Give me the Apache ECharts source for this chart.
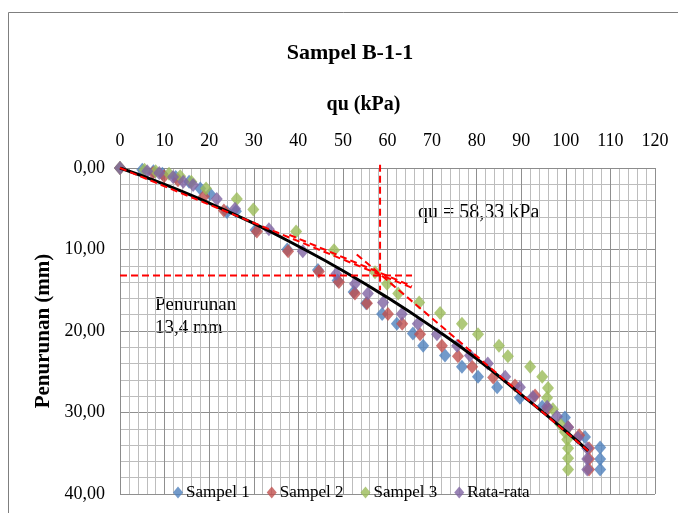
<!DOCTYPE html>
<html>
<head>
<meta charset="utf-8">
<script src="https://cdn.jsdelivr.net/npm/echarts@6/dist/echarts.min.js"></script>
<style>
  html, body { margin: 0; padding: 0; background: #fff; }
  #chart { width: 678px; height: 513px; }
</style>
</head>
<body>
<div id="chart"></div>
<script>
// [qu (kPa), penurunan (mm)]
const sampel1 = [[0,0],[5,0.2],[7.5,0.4],[9.5,0.7],[12.5,1.1],[15.5,1.7],[18,2.5],[20.2,3.2],[24,5.4],[26,5.3],[30.4,7.6],[37.5,10.0],[44.4,12.5],[48.8,13.8],[52.4,15.2],[55.2,16.6],[58.8,17.9],[62.1,19.1],[65.7,20.3],[68,21.8],[72.9,23.0],[76.7,24.4],[80.3,25.6],[84.6,26.9],[89.7,28.2],[94.7,29.3],[99.8,30.6],[104.3,33.0],[107.7,34.3],[107.7,35.7],[107.7,37.0]]
const sampel2 = [[0,0],[7.4,0.6],[9.9,1.0],[13,1.5],[18.8,3.5],[23.3,5.2],[30.7,7.8],[37.7,10.2],[44.6,12.7],[49.1,14.0],[52.7,15.4],[55.4,16.6],[60.1,17.9],[63.3,19.1],[67.3,20.4],[72.2,21.8],[75.8,23.1],[79,24.4],[83.7,25.7],[88.6,26.7],[93.1,27.9],[96,29.5],[100.5,31.8],[103,32.8],[105.2,34.4],[105.2,35.7],[105.2,37.0]]
const sampel3 = [[0,0],[5.5,0.2],[8,0.4],[11,0.7],[13.5,1.0],[16,1.7],[19.3,2.5],[26.2,3.8],[29.9,5.1],[39.5,7.8],[48,10.1],[57.2,12.8],[59.9,14.2],[62.4,15.4],[67.1,16.5],[71.8,17.8],[76.7,19.1],[80.3,20.4],[85,21.8],[87,23.1],[92,24.4],[94.7,25.6],[96,27.0],[95.8,28.2],[97.1,29.6],[98.7,31.4],[99.8,32.4],[100.3,33.3],[100.5,34.4],[100.5,35.6],[100.5,37.0]]
const rataRata = [[0,0],[6.1,0.4],[8.8,0.6],[11.9,1.1],[14.2,1.7],[16.4,2.1],[21.7,3.8],[25.8,5.0],[33.4,7.5],[41,10.2],[48.5,13.0],[52.7,14.2],[55.6,15.4],[59,16.5],[63.2,17.9],[66.8,19.1],[71.1,20.4],[75.6,21.8],[78.5,23.0],[82.5,24.0],[86.4,25.6],[89.7,26.9],[92.6,28.1],[95.8,29.3],[98,30.5],[100.5,31.8],[102.7,33.1],[104.8,34.4],[104.8,35.7],[104.8,37.0]]

// trendline of the average curve
const trend = [[0,0],[10,2.0],[20,4.3],[30,6.8],[40,9.6],[50,12.6],[60,15.9],[70,19.5],[80,23.4],[90,27.8],[100,32.3],[105,34.7]]

// construction lines
const tangentA = [[0,0],[65.5,14.7]]
const tangentC = [[38,8.2],[65.5,14.5]]
const tangentB = [[53.1,10.6],[105,34.7]]
const quLine = [[58.33,-0.4],[58.33,15.0]]
const settleLine = [[0,13.2],[65.5,13.2]]

const seriesNames = ['Sampel 1', 'Sampel 2', 'Sampel 3', 'Rata-rata']
const seriesColors = ['#4f81bd', '#c0504d', '#9bbb59', '#8064a2']

const serif = '"Liberation Serif", "DejaVu Serif", serif'
const chart = echarts.init(document.getElementById('chart'))

function dashed(data) {
  return {
    type: 'line',
    data: data,
    symbol: 'none',
    clip: false,
    silent: true,
    z: 5,
    lineStyle: { color: '#ff0000', width: 2, type: [7, 4] },
  }
}

const scatter = [sampel1, sampel2, sampel3, rataRata].map((d, i) => ({
  name: seriesNames[i],
  type: 'scatter',
  data: d,
  symbol: 'diamond',
  symbolSize: [12, 14],
  itemStyle: { color: seriesColors[i] },
  z: 2 + i * 0.1,
}))

chart.setOption({
  animation: false,
  title: {
    text: 'Sampel B-1-1',
    left: 345,
    top: 37,
    textAlign: 'center',
    textStyle: { fontFamily: serif, fontSize: 22, fontWeight: 'bold', color: '#000' },
  },
  legend: {
    data: seriesNames.map((n) => ({ name: n, icon: 'diamond' })),
    left: 168,
    top: 479,
    itemWidth: 10,
    itemHeight: 12,
    itemGap: 17,
    textStyle: { fontFamily: serif, fontSize: 17, color: '#000', padding: [0, 0, 0, -2] },
  },
  grid: { left: 120, right: 23, top: 168, bottom: 19 },
  xAxis: {
    type: 'value',
    position: 'top',
    min: 0,
    max: 120,
    interval: 10,
    name: 'qu (kPa)',
    nameLocation: 'middle',
    nameGap: 53,
    nameTextStyle: { fontFamily: serif, fontSize: 20, fontWeight: 'bold', color: '#000', padding: [0, 48, 0, 0] },
    axisLine: { show: true, lineStyle: { color: '#8c8c8c' } },
    axisTick: { show: false },
    axisLabel: { fontFamily: serif, fontSize: 18, color: '#000', margin: 18 },
    splitLine: { show: true, lineStyle: { color: '#8f8f8f' } },
    minorTick: { show: false, splitNumber: 5 },
    minorSplitLine: { show: true, lineStyle: { color: '#bdbdbd' } },
  },
  yAxis: {
    type: 'value',
    inverse: true,
    min: 0,
    max: 40,
    interval: 10,
    name: 'Penurunan (mm)',
    nameLocation: 'middle',
    nameGap: 57,
    nameTextStyle: { fontFamily: serif, fontSize: 21, fontWeight: 'bold', color: '#000' },
    axisLine: { show: true, lineStyle: { color: '#8c8c8c' } },
    axisTick: { show: false },
    axisLabel: {
      fontFamily: serif, fontSize: 18, color: '#000', margin: 15,
      formatter: (v) => v.toFixed(2).replace('.', ','),
    },
    splitLine: { show: true, lineStyle: { color: '#8f8f8f' } },
    minorTick: { show: false, splitNumber: 5 },
    minorSplitLine: { show: true, lineStyle: { color: '#bdbdbd' } },
  },
  graphic: [
    { type: 'rect', shape: { x: 8.5, y: 12.5, width: 700, height: 520 }, style: { fill: 'none', stroke: '#7f7f7f', lineWidth: 1 }, silent: true },
    { type: 'text', left: 418, top: 203, style: { text: 'qu = 58,33 kPa', font: '20px ' + serif, fill: '#000' } },
    { type: 'text', left: 155, top: 294, style: { text: 'Penurunan\n13,4 mm', font: '19px ' + serif, fill: '#000', lineHeight: 23 } },
  ],
  series: [
    ...scatter,
    {
      type: 'line',
      data: trend,
      smooth: true,
      symbol: 'none',
      silent: true,
      z: 4,
      lineStyle: { color: '#000', width: 3 },
    },
    dashed(tangentA),
    dashed(tangentC),
    dashed(tangentB),
    dashed(quLine),
    dashed(settleLine),
  ],
})
</script>
</body>
</html>
